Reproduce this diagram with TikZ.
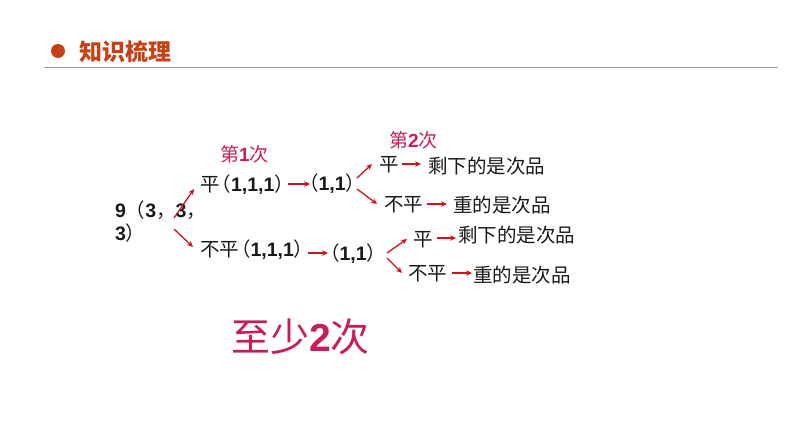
\documentclass[tikz,border=0pt]{standalone}
\usepackage{fontspec}
\setmainfont{Noto Sans CJK SC}
\newfontfamily\lat{Liberation Sans}[BoldFont={Liberation Sans Bold}]
\newcommand{\nm}[1]{{\lat\bfseries #1}}
\newcommand{\lpar}{\hspace{-8pt}（}
\definecolor{headc}{RGB}{197,66,22}
\definecolor{pinkc}{RGB}{200,30,85}
\definecolor{arrc}{RGB}{205,20,30}
\usetikzlibrary{arrows.meta}
\tikzset{
  lab/.style={anchor=west,inner sep=0pt,outer sep=0pt,font=\fontsize{19.5}{22}\selectfont,text=black!90},
  pk/.style={anchor=west,inner sep=0pt,font=\fontsize{19}{22}\selectfont,text=pinkc},
  arr/.style={draw=arrc,line width=1.3pt,-{Stealth[length=6pt,width=5.5pt]}},
}
\begin{document}
\begin{tikzpicture}[x=1pt,y=-1pt]
\useasboundingbox (0,0) rectangle (794,447);
\node[circle,fill=headc,inner sep=0pt,minimum size=14pt] (dot) at (58,51) {};
\node[anchor=west,inner sep=0pt,text=headc,font=\fontsize{23}{26}\selectfont\bfseries] (title) at (79,52) {知识梳理};
\coordinate (ruleL) at (44,67.5);\coordinate (ruleR) at (778,67.5);
\draw[black!40,line width=0.8pt] (ruleL) -- (ruleR);

\node[pk] (t1) at (220,154) {第\nm{1}次};
\node[pk] (t2) at (389,140) {第\nm{2}次};

\node[lab,align=left,text width=80pt] (root) at (115,222) {\nm{9}（\nm{3}，\nm{3}，\\[1pt]\nm{3}）};

\node[lab] (a) at (200,185) {平\lpar\nm{1,1,1}）};
\node[lab] (b) at (200,250) {不平\lpar\nm{1,1,1}）};
\node[lab] (a1) at (299,184) {（\nm{1,1}）};
\node[lab] (b1) at (320,254) {（\nm{1,1}）};

\node[lab] (p1) at (379,165) {平};
\node[lab] (r1) at (428,166) {剩下的是次品};
\node[lab] (q1) at (384,205) {不平};
\node[lab] (s1) at (453,205) {重的是次品};
\node[lab] (p2) at (413,240) {平};
\node[lab] (r2) at (458,235) {剩下的是次品};
\node[lab] (q2) at (408,274) {不平};
\node[lab] (s2) at (473,275) {重的是次品};

\node[anchor=west,inner sep=0pt,text=pinkc,font=\fontsize{39}{42}\selectfont] (big) at (231,337) {至少\nm{2}次};

\draw[arr] ([shift={(59,-4)}]root.west) -- ([shift={(-6,4)}]a.west);
\draw[arr] ([shift={(59,7)}]root.west) -- ([shift={(-7,-3)}]b.west);
\draw[arr] ([shift={(88,-1)}]a.west) -- ([shift={(11,0)}]a1.west);
\draw[arr] ([shift={(108,3)}]b.west) -- ([shift={(8,-1)}]b1.west);
\draw[arr] ([shift={(58,-6)}]a1.west) -- ([shift={(-7,-1)}]p1.west);
\draw[arr] ([shift={(58,5)}]a1.west) -- ([shift={(-7,-1)}]q1.west);
\draw[arr] ([shift={(67,-1)}]b1.west) -- ([shift={(-6,-1)}]p2.west);
\draw[arr] ([shift={(67,4)}]b1.west) -- ([shift={(-6,-1)}]q2.west);
\draw[arr] ([shift={(23,-1)}]p1.west) -- ([shift={(-7,-2)}]r1.west);
\draw[arr] ([shift={(43,-1)}]q1.west) -- ([shift={(-6,-1)}]s1.west);
\draw[arr] ([shift={(24,-2)}]p2.west) -- ([shift={(-2,3)}]r2.west);
\draw[arr] ([shift={(44,-1)}]q2.west) -- ([shift={(-1,-2)}]s2.west);
\end{tikzpicture}
\end{document}
